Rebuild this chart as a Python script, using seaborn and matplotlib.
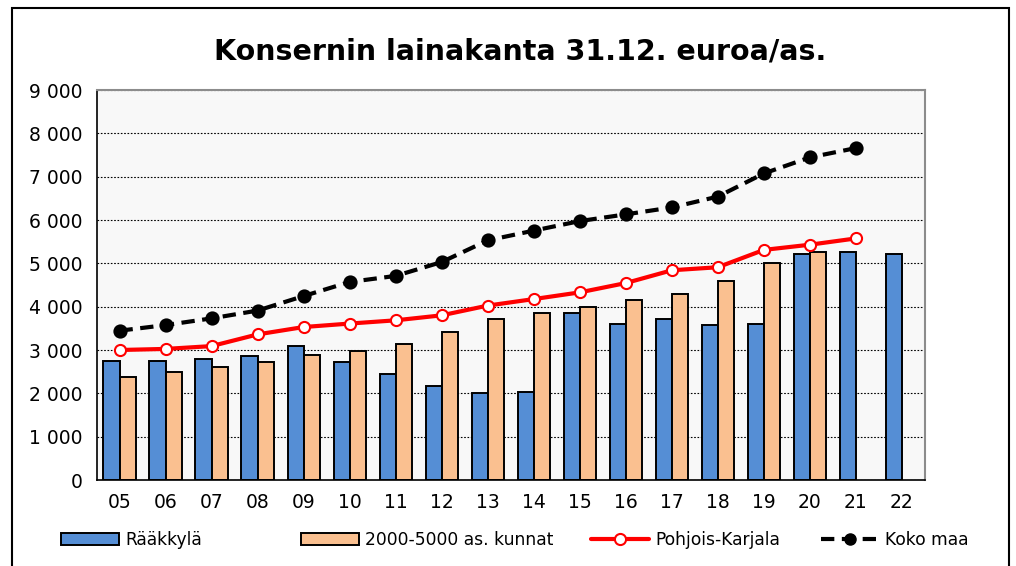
import numpy as np
import pandas as pd
import seaborn as sns
import matplotlib.pyplot as plt
from matplotlib.patches import Patch, Rectangle
from matplotlib.lines import Line2D
from matplotlib.ticker import MultipleLocator, FuncFormatter

years = ["05", "06", "07", "08", "09", "10", "11", "12", "13", "14",
         "15", "16", "17", "18", "19", "20", "21", "22"]
raakkyla = [2750, 2750, 2800, 2855, 3090, 2720, 2455, 2160, 2015, 2040,
            3860, 3610, 3710, 3580, 3610, 5210, 5255, 5210]
kunnat = [2385, 2500, 2610, 2730, 2880, 2975, 3145, 3415, 3715, 3860,
          4000, 4155, 4300, 4590, 5015, 5255]
pohjois_karjala = [3000, 3025, 3090, 3360, 3530, 3610, 3685, 3800, 4025, 4175,
                   4330, 4545, 4840, 4910, 5310, 5430, 5575]
koko_maa = [3445, 3575, 3730, 3910, 4245, 4570, 4710, 5030, 5530, 5755,
            5975, 6130, 6290, 6540, 7075, 7445, 7660]

labels = ["Rääkkylä", "2000-5000 as. kunnat", "Pohjois-Karjala", "Koko maa"]
blue = "#558ed5"
orange = "#fac090"

bars = pd.concat([
    pd.DataFrame({"year": years, "value": raakkyla, "series": labels[0]}),
    pd.DataFrame({"year": years[:len(kunnat)], "value": kunnat, "series": labels[1]}),
])

sns.set_style("white")
plt.rcParams["font.family"] = ["DejaVu Sans"]
plt.rcParams["text.color"] = "black"
plt.rcParams["xtick.color"] = "black"
plt.rcParams["ytick.color"] = "black"

fig = plt.figure(figsize=(10.16, 5.66), dpi=100)
ax = fig.add_axes([96.5 / 1016, 1 - 480 / 566, (925 - 96.5) / 1016, 390 / 566])
ax.set_facecolor("#f8f8f8")

sns.barplot(data=bars, x="year", y="value", hue="series", order=years,
            hue_order=labels[:2], palette=[blue, orange], saturation=1,
            width=0.7, gap=0, edgecolor="black", linewidth=1.4,
            legend=False, ax=ax)

sns.pointplot(x=years[:len(pohjois_karjala)], y=pohjois_karjala, order=years,
              color="red", errorbar=None, ax=ax, linewidth=3, markersize=8,
              markerfacecolor="white", markeredgecolor="red", markeredgewidth=1.5)
sns.pointplot(x=years[:len(koko_maa)], y=koko_maa, order=years,
              color="black", errorbar=None, ax=ax, linewidth=3, markersize=8,
              linestyles="--")
ax.lines[-1].set_dashes((3.2, 1.8))

ax.set_xlim(-0.5, len(years) - 0.5)
ax.set_ylim(0, 9000)
ax.yaxis.set_major_locator(MultipleLocator(1000))
ax.yaxis.set_minor_locator(MultipleLocator(200))
ax.yaxis.set_major_formatter(FuncFormatter(lambda v, p: f"{int(v):,}".replace(",", " ")))
ax.set_xticks(np.arange(-0.5, len(years), 1), minor=True)
ax.set_xlabel("")
ax.set_ylabel("")

ax.grid(axis="y", which="major", color="black", linestyle=(0, (1.5, 1.5)), linewidth=0.8)
ax.set_axisbelow(True)

ax.tick_params(axis="x", which="major", length=0, labelsize=13.5, pad=9,
               labelcolor="black")
ax.tick_params(axis="x", which="minor", direction="inout", length=13, width=1, color="black")
ax.tick_params(axis="y", which="major", direction="inout", length=12, width=1,
               labelsize=13.5, pad=4, color="black", labelcolor="black")
ax.tick_params(axis="y", which="minor", direction="in", length=5, width=1, color="black")

for side in ["left", "bottom"]:
    ax.spines[side].set_color("black")
    ax.spines[side].set_linewidth(1.2)
for side in ["top", "right"]:
    ax.spines[side].set_color("#8c8c8c")
    ax.spines[side].set_linewidth(1.5)

fig.text(520 / 1016, 1 - 52 / 566, "Konsernin lainakanta 31.12. euroa/as.",
         ha="center", va="center", fontsize=20.5, fontweight="bold", color="black")

handles = [
    Patch(facecolor=blue, edgecolor="black", linewidth=1.4),
    Patch(facecolor=orange, edgecolor="black", linewidth=1.4),
    Line2D([], [], color="red", linewidth=3, marker="o", markersize=8,
           markerfacecolor="white", markeredgecolor="red", markeredgewidth=1.5),
    Line2D([], [], color="black", linewidth=3, marker="o", markersize=8,
           dashes=(3.2, 1.8)),
]
lefts = [61, 301, 591, 821]
for h, lab, x in zip(handles, labels, lefts):
    fig.legend(handles=[h], labels=[lab], loc="center left",
               bbox_to_anchor=(x / 1016, 1 - 540 / 566), frameon=False,
               borderpad=0, borderaxespad=0, handlelength=3.4,
               handletextpad=0.35, fontsize=12.3, labelcolor="black")

fig.patches.append(Rectangle((12 / 1016, -0.1), (1009 - 12) / 1016, 1.1 - 8 / 566,
                             transform=fig.transFigure, fill=False,
                             edgecolor="black", linewidth=1.5))

fig.savefig("out.png", dpi=100)
